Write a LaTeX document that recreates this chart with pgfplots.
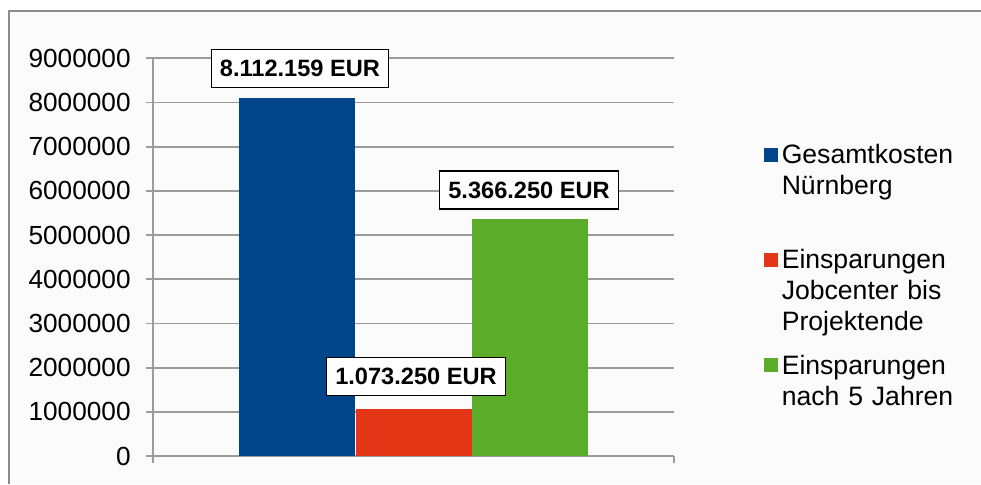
\documentclass[border=0pt]{standalone}
\usepackage{fontspec}
\setmainfont{Liberation Sans}
\usepackage{pgfplots}
\pgfplotsset{compat=1.18}
\definecolor{cblue}{RGB}{0,69,137}
\definecolor{cred}{RGB}{227,54,23}
\definecolor{cgreen}{RGB}{91,173,41}
\definecolor{gridgray}{RGB}{155,155,155}
\definecolor{framegray}{RGB}{140,140,140}
\definecolor{bg}{RGB}{251,251,251}
\begin{document}
\begin{tikzpicture}
\useasboundingbox (0,0) rectangle (490.5pt,242pt);
\fill[bg] (4.25pt,0) rectangle (490.5pt,236.75pt);
\draw[framegray, line width=1pt] (4.25pt,0) -- (4.25pt,236.75pt) -- (490.5pt,236.75pt);
\begin{axis}[
  at={(76.5pt,14pt)}, anchor=south west,
  scale only axis, width=260.5pt, height=198.85pt,
  xmin=-0.5, xmax=0.5, ymin=0, ymax=9000000,
  ybar, bar width=58pt, bar shift=0pt,
  axis lines*=left,
  axis line style={draw=gridgray, line width=0.9pt},
  ytick distance=1000000,
  xtick={-0.5,0.5}, xticklabels={},
  tick align=outside, major tick length=3.5pt,
  tick style={draw=gridgray, line width=0.9pt},
  ymajorgrids, grid style={draw=gridgray, line width=0.9pt},
  scaled y ticks=false,
  /pgf/number format/.cd, fixed, 1000 sep={}, assume math mode=true,
  /pgfplots/.cd,
  yticklabel style={font=\fontsize{13.1}{15}\selectfont, inner sep=0pt, xshift=-7.5pt},
  every node near coord/.style={draw=black, fill=white, line width=0.7pt,
     font=\bfseries\fontsize{11.8}{14}\selectfont, text height=8.45pt, text depth=0pt,
     inner xsep=4.3pt, inner ysep=5.3pt, anchor=south, text=black},
  legend style={at={(1.16,0.805)}, anchor=north west, draw=none, fill=none,
     font=\fontsize{13.3}{15.5}\selectfont, row sep=37.5pt, column sep=0pt,
     cells={anchor=base west, align=left, text width=92pt, inner xsep=2pt}},
  legend image code/.code={\fill[#1] (0pt,1pt) rectangle (7pt,8pt);},
]
\addplot[fill=cblue, draw=none, nodes near coords={8.112.159 EUR},
  every node near coord/.append style={xshift=1.25pt, yshift=4.75pt}]
  coordinates {(-0.2227,8112159)};
\addlegendentry{Gesamtkosten\\Nürnberg}
\addplot[fill=cred, draw=none, nodes near coords={1.073.250 EUR},
  every node near coord/.append style={xshift=1.25pt, yshift=6.25pt}]
  coordinates {(0,1073250)};
\addlegendentry{Einsparungen\\Jobcenter bis\\Projektende}
\addplot[fill=cgreen, draw=none, nodes near coords={5.366.250 EUR},
  every node near coord/.append style={xshift=-0.25pt, yshift=4.5pt}]
  coordinates {(0.2227,5366250)};
\addlegendentry{Einsparungen\\nach 5 Jahren}
\end{axis}
\end{tikzpicture}
\end{document}
